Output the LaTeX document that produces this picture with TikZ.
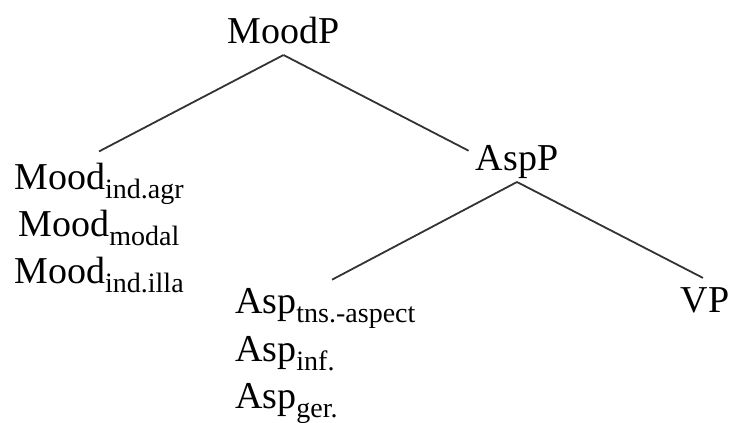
\documentclass[tikz,border=0pt]{standalone}
\usepackage{fontspec}
\setmainfont{Liberation Serif}
\usetikzlibrary{positioning}
\newcommand{\catsub}[1]{\raisebox{-9pt}{\fontsize{28}{30}\selectfont #1}}
\tikzset{
  cat/.style={font=\fontsize{38}{42}\selectfont, inner sep=0pt, anchor=base},
  rama/.style={line width=1.8pt, black!80}
}
\begin{document}
\begin{tikzpicture}[x=1pt,y=-1pt]
		\useasboundingbox (0,0) rectangle (729,423);
		% nodos
		\node[cat] (moodp) at (283.5,43) {MoodP};
		\node[cat] (aspp) at (517,170) {AspP};
		\node[cat] (vp) at (705,312) {VP};
		\node[cat] (mood1) at (99,189) {Mood\catsub{ind.agr}};
		\node[cat] (mood2) at (99,236) {Mood\catsub{modal}};
		\node[cat] (mood3) at (99,283) {Mood\catsub{ind.illa}};
		\node[cat,anchor=base west] (asp1) at (235,313) {Asp\catsub{tns.-aspect}};
		\node[cat,anchor=base west] (asp2) at (235,361) {Asp\catsub{inf.}};
		\node[cat,anchor=base west] (asp3) at (235,408) {Asp\catsub{ger.}};
		% ramas
		\draw[rama] ([yshift=-12pt]moodp.base) -- ([yshift=11pt]mood1.north);
		\draw[rama] ([yshift=-12pt]moodp.base) -- ([shift={(-7pt,-6pt)}]aspp.north west);
		\draw[rama] ([yshift=-12pt]aspp.base) -- ([shift={(97pt,8pt)}]asp1.north west);
		\draw[rama] ([yshift=-12pt]aspp.base) -- ([shift={(-2pt,9pt)}]vp.north);
\end{tikzpicture}
\end{document}
